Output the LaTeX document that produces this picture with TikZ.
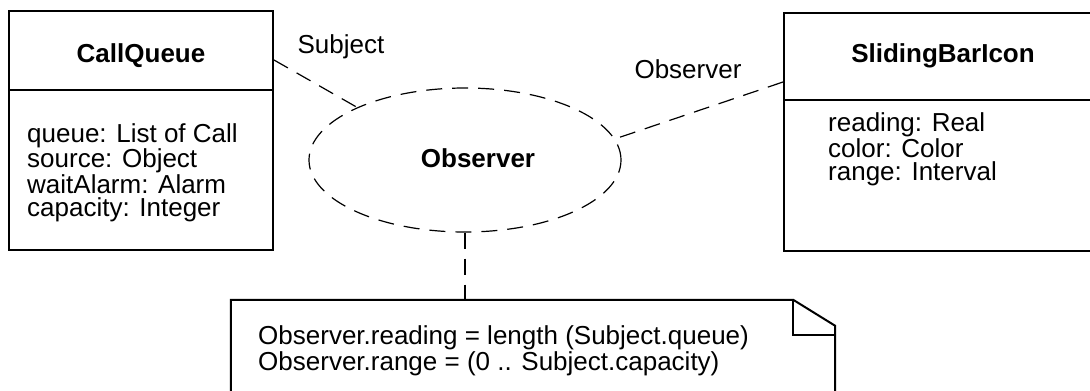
\documentclass[tikz,border=0pt]{standalone}
\usepackage{fontspec}
\setmainfont{Liberation Sans}
\usetikzlibrary{shapes.geometric,calc}

\begin{document}
\begin{tikzpicture}[x=1pt, y=-1pt, font=\fontsize{26}{23}\selectfont,
  cls/.style={draw, line width=2pt, inner sep=0pt},
  title/.style={font=\fontsize{26}{23}\selectfont\bfseries, anchor=base, inner sep=0pt},
  attr/.style={align=left, inner sep=0pt, anchor=base west},
  lnk/.style={line width=1.2pt, dash pattern=on 16pt off 10pt}]
  \useasboundingbox (0,0) rectangle (1090,391);
  \clip (0,0) rectangle (1090,391);
  % classes
  \node[cls, minimum width=264pt, minimum height=239pt] (cq) at (141,130.5) {};
  \node[cls, minimum width=320pt, minimum height=238pt] (sb) at (944,132) {};
  \draw[line width=2pt] (cq.west |- 0,90) -- (cq.east |- 0,90);
  \draw[line width=2pt] (sb.west |- 0,100) -- (sb.east |- 0,100);
  \node[title] (cqname) at (141,62) {CallQueue};
  \node[title] (sbname) at (943,62) {SlidingBarIcon};
  \node[attr] (cqattr) at (27,216) {queue: List of Call\\source: Object\\waitAlarm: Alarm\\capacity: Integer};
  \node[attr] (sbattr) at (828,180) {reading: Real\\color: Color\\range: Interval};
  % collaboration
  \node[lnk, draw, ellipse, minimum width=312pt, minimum height=144pt, inner sep=0pt] (obs) at (465,160) {};
  \node[title] (obsname) at (478,167) {Observer};
  \node[anchor=base, inner sep=0pt] (subjlbl) at (341,53) {Subject};
  \node[anchor=base, inner sep=0pt] (obslbl) at (688,78) {Observer};
  \draw[lnk] (cq.east |- 0,60) -- (obs.154.7);
  \draw[lnk] (sb.west |- 0,82) -- (obs.8);
  % constraint note
  \node[inner sep=0pt, minimum width=604pt, minimum height=120pt] (note) at (533,360) {};
  \draw[line width=2pt] (note.south west) -- (note.north west) -- ($(note.north east)+(-42,0)$)
     -- ($(note.north east)+(0,26)$) -- (note.south east);
  \draw[line width=2pt] ($(note.north east)+(-42,0)$) -- ++(0,35) -- ++(42,0);
  \node[attr] (notetext) at (258,370) {Observer.reading = length (Subject.queue)\\Observer.range = (0 .. Subject.capacity)};
  \draw[lnk] (obs.south) -- (obs.south |- note.north);
\end{tikzpicture}
\end{document}
